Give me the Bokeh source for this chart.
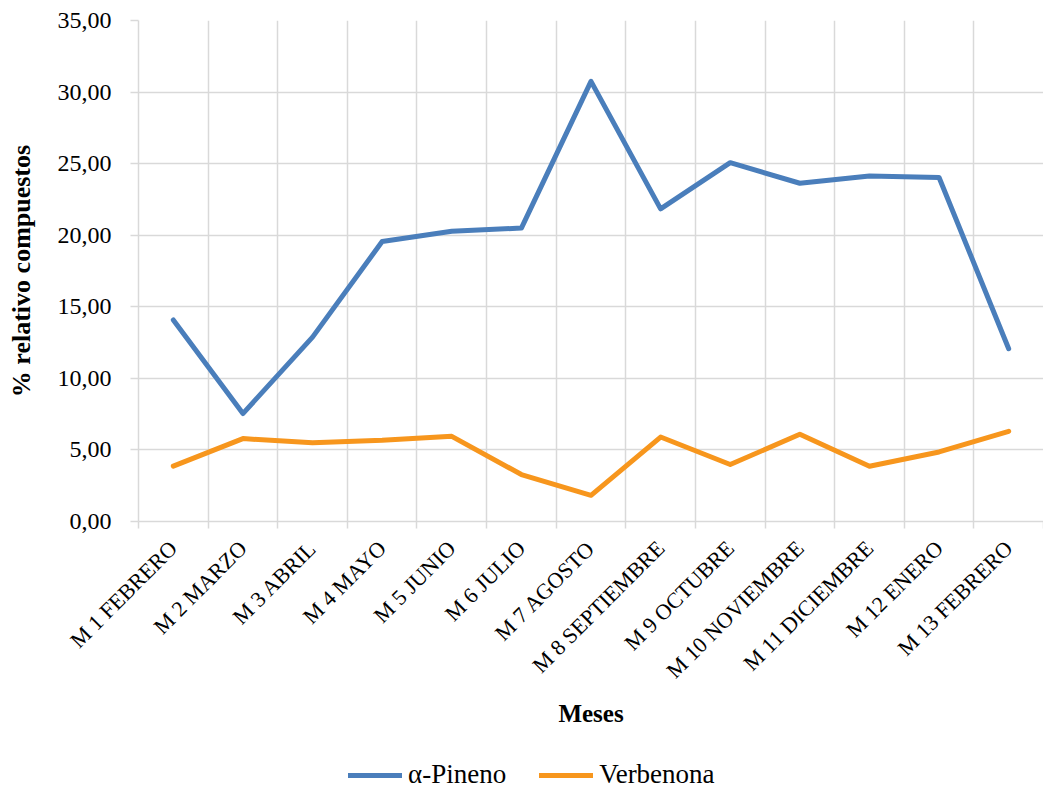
from bokeh.plotting import figure
from bokeh.layouts import column
from bokeh.models import Range1d, FixedTicker, Legend, LegendItem, ColumnDataSource
from bokeh.embed import file_html
from bokeh.resources import INLINE

meses = ["M 1 FEBRERO", "M 2 MARZO", "M 3 ABRIL", "M 4 MAYO", "M 5 JUNIO", "M 6 JULIO",
         "M 7 AGOSTO", "M 8 SEPTIEMBRE", "M 9 OCTUBRE", "M 10 NOVIEMBRE",
         "M 11 DICIEMBRE", "M 12 ENERO", "M 13 FEBRERO"]
pineno = [14.08, 7.54, 12.88, 19.56, 20.28, 20.50, 30.75, 21.84, 25.07, 23.63, 24.14, 24.03, 12.07]
verbenona = [3.87, 5.79, 5.50, 5.67, 5.95, 3.28, 1.83, 5.90, 3.98, 6.09, 3.86, 4.86, 6.30]
y_ticks = [0, 5, 10, 15, 20, 25, 30, 35]
y_tick_labels = ["0,00", "5,00", "10,00", "15,00", "20,00", "25,00", "30,00", "35,00"]
series_names = ["α-Pineno", "Verbenona"]

FONT = "Liberation Serif"
GRID = "#d9d9d9"
BLUE = "#4A7EBB"
ORANGE = "#F7961D"

n = len(meses)
centers = [i + 0.5 for i in range(n)]
bounds = list(range(n + 1))

src = ColumnDataSource(dict(x=centers, pineno=pineno, verbenona=verbenona))

p = figure(width=1043, height=740, x_range=Range1d(0, n), y_range=Range1d(0, 35),
           output_backend="svg", toolbar_location=None,
           min_border_left=138, min_border_right=0, min_border_top=20, min_border_bottom=219)
p.outline_line_color = None
p.background_fill_color = "white"
p.border_fill_color = "white"

# grid
p.xgrid.ticker = FixedTicker(ticks=bounds)
p.ygrid.ticker = FixedTicker(ticks=y_ticks)
for g in (p.xgrid, p.ygrid):
    g.grid_line_color = GRID
    g.grid_line_width = 1.5

# x axis
xa = p.xaxis[0]
xa.ticker = FixedTicker(ticks=centers, minor_ticks=bounds)
xa.major_label_overrides = {c: m for c, m in zip(centers, meses)}
xa.major_label_orientation = 0.785398
xa.major_tick_line_color = None
xa.major_tick_out = 0
xa.major_tick_in = 0
xa.minor_tick_line_color = GRID
xa.minor_tick_line_width = 1.5
xa.minor_tick_out = 7
xa.minor_tick_in = 0
xa.axis_line_color = GRID
xa.axis_line_width = 1.5
xa.major_label_text_font = FONT
xa.major_label_text_font_size = "22px"
xa.major_label_text_color = "black"
xa.major_label_standoff = 16
xa.axis_label = "Meses"
xa.axis_label_text_font = FONT
xa.axis_label_text_font_style = "bold"
xa.axis_label_text_font_size = "25px"
xa.axis_label_text_color = "black"
xa.axis_label_standoff = 5

# y axis
ya = p.yaxis[0]
ya.ticker = FixedTicker(ticks=y_ticks, minor_ticks=[])
ya.major_label_overrides = {t: l for t, l in zip(y_ticks, y_tick_labels)}
ya.major_tick_line_color = GRID
ya.major_tick_line_width = 1.5
ya.major_tick_out = 8
ya.major_tick_in = 0
ya.minor_tick_line_color = None
ya.axis_line_color = GRID
ya.axis_line_width = 1.5
ya.major_label_text_font = FONT
ya.major_label_text_font_size = "24px"
ya.major_label_text_color = "black"
ya.major_label_standoff = 19
ya.axis_label = "% relativo compuestos"
ya.axis_label_text_font = FONT
ya.axis_label_text_font_style = "bold"
ya.axis_label_text_font_size = "26px"
ya.axis_label_text_color = "black"
ya.axis_label_standoff = 19

p.line("x", "pineno", source=src, line_color=BLUE, line_width=5,
       line_cap="round", line_join="round")
p.line("x", "verbenona", source=src, line_color=ORANGE, line_width=5,
       line_cap="round", line_join="round")

# legend strip below the chart (its frame is aligned with the chart's frame)
lg = figure(width=1043, height=50, x_range=Range1d(0, n), y_range=Range1d(-1, 0),
            output_backend="svg", toolbar_location=None,
            min_border_left=138, min_border_right=0, min_border_top=0, min_border_bottom=0)
lg.axis.visible = False
lg.grid.visible = False
lg.outline_line_color = None
lg.border_fill_color = "white"
lg.background_fill_color = "white"
# same series, outside this strip's visible y-range: only their legend glyphs show
lr1 = lg.line("x", "pineno", source=src, line_color=BLUE, line_width=5, line_cap="round")
lr2 = lg.line("x", "verbenona", source=src, line_color=ORANGE, line_width=5, line_cap="round")
legend = Legend(items=[LegendItem(label=series_names[0], renderers=[lr1]),
                       LegendItem(label=series_names[1], renderers=[lr2])],
                orientation="horizontal", location=(210, 0),
                padding=0, margin=0, spacing=33, glyph_width=54, glyph_height=30,
                label_height=30, label_standoff=6,
                label_text_font=FONT, label_text_font_size="27px",
                label_text_color="black",
                border_line_color=None, background_fill_alpha=0)
lg.add_layout(legend, "center")

open("out.html", "w").write(file_html(column(p, lg, spacing=0), INLINE))
